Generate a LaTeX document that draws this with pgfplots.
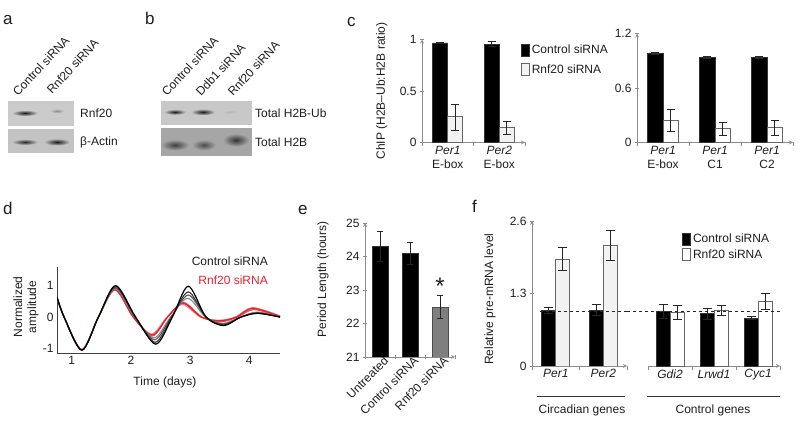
\documentclass[border=0pt]{standalone}
\usepackage{pgfplots}
\pgfplotsset{compat=1.18}
\usepackage{fontspec}
\setmainfont{Liberation Sans}

\definecolor{txt}{HTML}{1E1E1E}
\definecolor{axgray}{HTML}{8C8C8C}
\definecolor{rnfred}{HTML}{E8202A}
\definecolor{paleface}{HTML}{F2F2F2}
\definecolor{midgray}{HTML}{7F7F7F}
\definecolor{bgaone}{HTML}{CBCBCB}
\definecolor{bgatwo}{HTML}{C3C3C3}
\definecolor{bgbone}{HTML}{C8C8C8}
\definecolor{bgbtwo}{HTML}{A6A6A6}

\pgfplotsset{
  base/.style={
    scale only axis, anchor=south west,
    axis line style={-, draw=axgray, line width=0.8pt},
    tick style={draw=axgray, line width=0.8pt},
    tick align=outside, major tick length=4pt,
    /pgf/number format/assume math mode=true,
    ticklabel style={font=\fontsize{12}{14}\selectfont, text=txt},
    label style={font=\fontsize{12}{14}\selectfont, text=txt},
  },
  ctrlbar/.style={fill=black, draw=black!80, line width=0.6pt},
  rnfbar/.style={fill=white, draw=black!60, line width=0.8pt},
  % legend swatch: a small upright box
  sq/.style={legend image code/.code={\draw[##1] (0pt,-6pt) rectangle (8pt,6pt);}},
}
% error bars with caps of half-width #1
\pgfplotsset{eb/.style={
  error bars/y dir=both, error bars/y explicit,
  error bars/error bar style={line width=0.7pt, black!85},
  error bars/error mark options={rotate=90, line width=0.7pt, black!85, mark size=#1}}}

\begin{document}
\begin{tikzpicture}[x=1pt,y=1pt]
\path[use as bounding box] (0,0) rectangle (800,435);
\tikzset{
  lab/.style={font=\fontsize{12}{14}\selectfont, text=txt, inner sep=0pt},
  letter/.style={font=\fontsize{17}{20}\selectfont, text=txt, inner sep=0pt, anchor=base west},
}

% panel letters
\node[letter] at (3,410) {a};
\node[letter] at (145,410) {b};
\node[letter] at (347,408) {c};
\node[letter] at (3,220) {d};
\node[letter] at (298,220) {e};
\node[letter] at (472,222) {f};

% ---- a: western blot
\fill[bgaone] (8,309) rectangle (74,334);
\fill[bgatwo] (8,282) rectangle (74,306);
\shade[inner color=black!90, outer color=bgaone] (25,322) ellipse (13 and 3);
\shade[inner color=black!45, outer color=bgaone] (57,324) ellipse (7 and 2.2);
\shade[inner color=black!85, outer color=bgatwo] (25,293) ellipse (13 and 3);
\shade[inner color=black!90, outer color=bgatwo] (57,293) ellipse (13 and 3.5);
\node[lab, anchor=west] at (80,322) {Rnf20};
\node[lab, anchor=west] at (80,293) {β-Actin};
\node[lab, rotate=47, anchor=base west] at (18,338) {Control siRNA};
\node[lab, rotate=47, anchor=base west] at (52,340) {Rnf20 siRNA};

% ---- b: western blot
\fill[bgbone] (161,310) rectangle (252,334);
\fill[bgbtwo] (161,279) rectangle (252,307);
\shade[inner color=black!90, outer color=bgbone] (175,323) ellipse (11 and 2.8);
\shade[inner color=black!90, outer color=bgbone] (203,323) ellipse (12 and 3.2);
\shade[inner color=black!30, outer color=bgbone] (230,323) ellipse (8 and 2);
\shade[inner color=black!75, outer color=bgbtwo] (175,290) ellipse (14 and 5.5);
\shade[inner color=black!70, outer color=bgbtwo] (204,290) ellipse (12 and 5.5);
\shade[inner color=black!80, outer color=bgbtwo] (236,295) ellipse (13 and 6.5);
\node[lab, anchor=west] at (255,322) {Total H2B-Ub};
\node[lab, anchor=west] at (255,293) {Total H2B};
\node[lab, rotate=47, anchor=base west] at (167,338) {Control siRNA};
\node[lab, rotate=47, anchor=base west] at (201,338) {Ddb1 siRNA};
\node[lab, rotate=47, anchor=base west] at (233,338) {Rnf20 siRNA};

% ---- c left
\begin{axis}[base, at={(422pt,292.5pt)}, width=103pt, height=103pt,
  xmin=0, xmax=2, ymin=0, ymax=1, axis lines=left,
  ytick={0,0.5,1}, xtick={0,1,2}, xticklabels={},
  extra x ticks={0.5,1.5},
  extra x tick labels={{\itshape Per1\\E-box},{\itshape Per2\\E-box}},
  extra x tick style={major tick length=0pt, xticklabel style={align=center}},
  ylabel={ChIP (H2B–Ub:H2B ratio)},
  ylabel style={at={(axis description cs:-0.39,0.5)}, anchor=center},
  ybar=0pt, bar width=15pt,
  legend cell align=left,
  legend style={at={(0.93,0.985)}, anchor=north west, draw=none, fill=none,
    font=\fontsize{12}{14}\selectfont, text=txt, row sep=5pt},
]
\addplot[ctrlbar, sq, eb=4pt] coordinates {(0.5,0.966) +- (0,0.005) (1.5,0.956) +- (0,0.025)};
\addplot[rnfbar, fill=paleface, sq, eb=4pt] coordinates {(0.5,0.25) += (0,0.12) -= (0,0.13) (1.5,0.145) += (0,0.065) -= (0,0.065)};
\legend{Control siRNA, Rnf20 siRNA}
\end{axis}

% ---- c right
\begin{axis}[base, at={(637pt,292.5pt)}, width=156pt, height=109pt,
  xmin=0, xmax=3, ymin=0, ymax=1.2, axis lines=left,
  ytick={0,0.6,1.2}, xtick={0,1,2,3}, xticklabels={},
  extra x ticks={0.5,1.5,2.5},
  extra x tick labels={{\itshape Per1\\E-box},{\itshape Per1\\C1},{\itshape Per1\\C2}},
  extra x tick style={major tick length=0pt, xticklabel style={align=center}},
  ybar=0pt, bar width=15.5pt,
]
\addplot[ctrlbar, eb=4pt] coordinates {(0.5,0.98) +- (0,0.01) (1.5,0.94) +- (0,0.01) (2.5,0.94) +- (0,0.01)};
\addplot[rnfbar, eb=4pt] coordinates {(0.5,0.24) += (0,0.13) -= (0,0.12) (1.5,0.15) += (0,0.07) -= (0,0.07) (2.5,0.165) += (0,0.075) -= (0,0.09)};
\end{axis}

% ---- d: oscillations
\begin{axis}[base, at={(57pt,82pt)}, width=223pt, height=86pt,
  xmin=0.75, xmax=4.52, ymin=-1.14, ymax=1.59, axis lines=left,
  axis line style={-, draw=black!75, line width=0.9pt},
  xtick={1,2,3,4}, ytick={-1,0,1}, major tick length=0pt,
  xlabel={Time (days)},
  xlabel style={at={(axis description cs:0.484,-0.34)}, anchor=center},
  ylabel={Normalized\\amplitude},
  ylabel style={at={(axis description cs:-0.139,0.535)}, anchor=center, align=center},
]
\addplot[smooth, rnfred!55, line width=1.2pt] coordinates {(0.75,0.63) (0.87,0) (1.17,-1.04) (1.45,0) (1.73,0.9) (2.04,0) (2.35,-0.54) (2.61,0) (2.87,0.4) (3.18,0) (3.49,-0.1) (3.77,0) (4.05,0.3) (4.52,0.04)};
\addplot[smooth, rnfred!80, line width=1.2pt] coordinates {(0.75,0.63) (0.87,0) (1.17,-1.04) (1.45,0) (1.73,0.86) (2.04,0) (2.36,-0.6) (2.62,0) (2.89,0.46) (3.2,0) (3.51,-0.15) (3.8,0) (4.08,0.24) (4.52,0)};
\addplot[smooth, rnfred, line width=1.2pt] coordinates {(0.75,0.63) (0.87,0) (1.17,-1.04) (1.45,0) (1.73,0.88) (2.04,0) (2.36,-0.57) (2.62,0) (2.88,0.44) (3.19,0) (3.5,-0.12) (3.78,0) (4.06,0.28) (4.52,0.02)};
\addplot[smooth, black!45, line width=1.1pt] coordinates {(0.75,0.63) (0.87,0) (1.17,-1.05) (1.45,0) (1.74,0.9) (2.06,0) (2.39,-0.66) (2.67,0) (2.96,0.6) (3.26,0) (3.56,-0.2) (3.85,0) (4.13,0.16) (4.52,0.01)};
\addplot[smooth, black!65, line width=1.1pt] coordinates {(0.75,0.63) (0.87,0) (1.17,-1.05) (1.45,0) (1.74,0.93) (2.07,0) (2.4,-0.72) (2.68,0) (2.97,0.7) (3.27,0) (3.56,-0.22) (3.85,0) (4.14,0.14) (4.52,0.01)};
\addplot[smooth, black!80, line width=1.1pt] coordinates {(0.75,0.63) (0.87,0) (1.17,-1.05) (1.45,0) (1.74,0.97) (2.07,0) (2.41,-0.8) (2.69,0) (2.97,0.8) (3.27,0) (3.57,-0.25) (3.86,0) (4.14,0.12) (4.52,0)};
\addplot[smooth, black, line width=1.2pt] coordinates {(0.75,0.63) (0.87,0) (1.17,-1.05) (1.45,0) (1.74,1.0) (2.08,0) (2.42,-0.86) (2.7,0) (2.97,0.98) (3.27,0) (3.57,-0.27) (3.86,0) (4.14,0.12) (4.52,0)};
\end{axis}
\node[lab, anchor=east] at (268,174) {Control siRNA};
\node[lab, anchor=east, text=rnfred] at (268,155) {Rnf20 siRNA};

% ---- e: period length
\begin{axis}[base, at={(365pt,78pt)}, width=90pt, height=134pt,
  xmin=0, xmax=3, ymin=21, ymax=25, axis lines=left,
  ytick={21,22,23,24,25}, xtick={0,1,2,3}, xticklabels={},
  extra x ticks={0.5,1.5,2.5},
  extra x tick labels={Untreated, Control siRNA, Rnf20 siRNA},
  extra x tick style={major tick length=0pt, xticklabel style={rotate=45, anchor=north east, inner sep=1pt, xshift=4pt}},
  ylabel={Period Length (hours)},
  ylabel style={at={(axis description cs:-0.467,0.578)}, anchor=center},
]
\addplot[ybar, bar width=16pt, ctrlbar, eb=3pt] coordinates {(0.5,24.31) +- (0,0.45) (1.5,24.10) +- (0,0.33)};
\addplot[ybar, bar width=16pt, fill=midgray, draw=black!70, line width=0.6pt, eb=3pt] coordinates {(2.5,22.49) +- (0,0.34)};
\node[font=\fontsize{24}{24}\selectfont, text=txt, inner sep=0pt] at (axis cs:2.5,23.1) {*};
\end{axis}

% ---- f: pre-mRNA, circadian genes
\begin{axis}[base, at={(532pt,69pt)}, width=95pt, height=145pt,
  xmin=0, xmax=2, ymin=0, ymax=2.6, axis lines=left,
  ytick={0,1.3,2.6}, xtick={0,1,2}, xticklabels={},
  extra x ticks={0.5,1.5},
  extra x tick labels={\itshape Per1, \itshape Per2},
  extra x tick style={major tick length=0pt},
  ylabel={Relative pre-mRNA level},
  ylabel style={at={(axis description cs:-0.442,0.462)}, anchor=center},
  ybar=0pt, bar width=14pt,
]
\addplot[ctrlbar, eb=4.5pt] coordinates {(0.5,1.0) +- (0,0.05) (1.5,1.0) +- (0,0.1)};
\addplot[rnfbar, fill=paleface, eb=4.5pt] coordinates {(0.5,1.92) +- (0,0.2) (1.5,2.17) += (0,0.27) -= (0,0.28)};
\addplot[sharp plot, dashed, black!85, line width=0.9pt] coordinates {(0.17,0.97) (2,0.97)};
\end{axis}

% ---- f: pre-mRNA, control genes
\begin{axis}[base, at={(648pt,69pt)}, width=132pt, height=145pt,
  xmin=0, xmax=3, ymin=0, ymax=2.6, axis x line=bottom, axis y line=none,
  clip=false, xtick={0,1,2,3}, xticklabels={},
  extra x ticks={0.5,1.5,2.5},
  extra x tick labels={\itshape Gdi2, \itshape Lrwd1, \itshape Cyc1},
  extra x tick style={major tick length=0pt},
  ybar=0pt, bar width=14pt,
  legend cell align=left,
  legend style={at={(0.235,0.938)}, anchor=north west, draw=none, fill=none,
    font=\fontsize{12}{14}\selectfont, text=txt, row sep=1pt},
]
\addplot[ctrlbar, sq, eb=4.5pt] coordinates {(0.5,0.98) +- (0,0.13) (1.5,0.94) +- (0,0.1) (2.5,0.86) +- (0,0.03)};
\addplot[rnfbar, sq, eb=4.5pt] coordinates {(0.5,0.96) +- (0,0.13) (1.5,1.0) += (0,0.09) -= (0,0.1) (2.5,1.16) += (0,0.14) -= (0,0.15)};
\addplot[sharp plot, dashed, black!85, line width=0.9pt, forget plot] coordinates {(-0.48,0.97) (3,0.97)};
\legend{Control siRNA, Rnf20 siRNA}
\end{axis}
\draw[black!80, line width=0.8pt] (537,39) -- (625,39);
\draw[black!80, line width=0.8pt] (647,39) -- (780,39);
\node[lab] at (582,25) {Circadian genes};
\node[lab] at (713,25) {Control genes};
\end{tikzpicture}
\end{document}
